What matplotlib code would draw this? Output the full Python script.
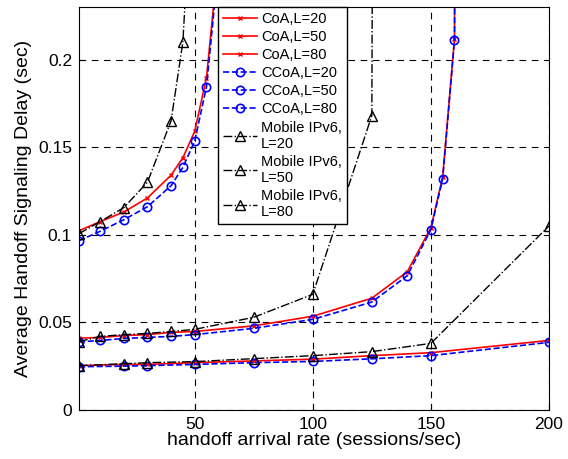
import numpy as np
import matplotlib
matplotlib.use("Agg")
import matplotlib.pyplot as plt

plt.rcParams["font.family"] = ["Liberation Sans", "DejaVu Sans"]

# handoff arrival rate (sessions/sec) for each load L
x_l20 = [1, 10, 20, 30, 40, 45, 50, 55, 60]
x_l50 = [1, 10, 20, 30, 40, 50, 75, 100, 125, 140, 150, 155, 160, 165]
x_l80 = [1, 20, 30, 50, 75, 100, 125, 150, 200]

x_mip_l20 = [1, 10, 20, 30, 40, 45, 50]
x_mip_l50 = [1, 10, 20, 30, 40, 50, 75, 100, 125, 150]
x_mip_l80 = [1, 20, 30, 50, 75, 100, 125, 150, 200]

# CoA
coa_l20 = [0.1023, 0.1075, 0.113, 0.121, 0.134, 0.144, 0.159, 0.1897, 0.258]
coa_l50 = [0.041, 0.0414, 0.0425, 0.043, 0.0443, 0.0448, 0.048, 0.0535, 0.0638,
           0.0789, 0.104, 0.133, 0.212, 2.0]
coa_l80 = [0.0253, 0.026, 0.026, 0.027, 0.028, 0.029, 0.031, 0.0327, 0.0397]

# CCoA
ccoa_l20 = [0.0966, 0.102, 0.1086, 0.116, 0.128, 0.1385, 0.1534, 0.1845, 0.253]
ccoa_l50 = [0.0388, 0.0397, 0.0408, 0.0414, 0.042, 0.043, 0.0466, 0.0517, 0.0616,
            0.0766, 0.1029, 0.132, 0.211, 2.0]
ccoa_l80 = [0.0247, 0.025, 0.0253, 0.026, 0.027, 0.0277, 0.0292, 0.031, 0.0386]

# Mobile IPv6
mip_l20 = [0.1006, 0.1075, 0.1155, 0.130, 0.165, 0.21, 0.33]
mip_l50 = [0.039, 0.042, 0.043, 0.0437, 0.0448, 0.046, 0.0529, 0.066, 0.168, 10.0]
mip_l80 = [0.0253, 0.0264, 0.027, 0.0276, 0.0293, 0.031, 0.0333, 0.038, 0.105]

fig = plt.figure(figsize=(5.68, 4.59), dpi=100)
ax = fig.add_axes([0.139, 0.1068, 0.8275, 0.878])

coa_style = dict(color="red", linestyle="-", marker="x", markersize=2.5, linewidth=1.2)
ccoa_style = dict(color="blue", linestyle="--", marker="o", markersize=6,
                  markerfacecolor="none", markeredgewidth=1.2, linewidth=1.2)
mip_style = dict(color="black", linestyle="-.", marker="^", markersize=7,
                 markerfacecolor="none", markeredgewidth=1.0, linewidth=1.0)

ax.plot(x_l20, coa_l20, label="CoA,L=20", **coa_style)
ax.plot(x_l50, coa_l50, label="CoA,L=50", **coa_style)
ax.plot(x_l80, coa_l80, label="CoA,L=80", **coa_style)
ax.plot(x_l20, ccoa_l20, label="CCoA,L=20", **ccoa_style)
ax.plot(x_l50, ccoa_l50, label="CCoA,L=50", **ccoa_style)
ax.plot(x_l80, ccoa_l80, label="CCoA,L=80", **ccoa_style)
ax.plot(x_mip_l20, mip_l20, label="Mobile IPv6,\nL=20", **mip_style)
ax.plot(x_mip_l50, mip_l50, label="Mobile IPv6,\nL=50", **mip_style)
ax.plot(x_mip_l80, mip_l80, label="Mobile IPv6,\nL=80", **mip_style)

ax.set_xlim(1, 200)
ax.set_ylim(0, 0.23)
ax.set_xticks([50, 100, 150, 200])
ax.set_yticks([0, 0.05, 0.1, 0.15, 0.2])
ax.set_yticklabels(["0", "0.05", "0.1", "0.15", "0.2"])
ax.tick_params(direction="in", labelsize=12.5, length=4, pad=5)
ax.grid(True, color="black", linestyle=(0, (6, 5)), linewidth=0.8)

ax.set_xlabel("handoff arrival rate (sessions/sec)", fontsize=14, labelpad=0)
ax.set_ylabel("Average Handoff Signaling Delay (sec)", fontsize=14, labelpad=4)

leg = ax.legend(loc="upper left", bbox_to_anchor=(0.296, 1.0), fontsize=10.5,
                fancybox=False, framealpha=1, edgecolor="black",
                handlelength=2.3, handletextpad=0.3, borderpad=0.35,
                labelspacing=0.28, borderaxespad=0)
leg.get_frame().set_linewidth(1.0)

fig.savefig("out.png", dpi=100)
